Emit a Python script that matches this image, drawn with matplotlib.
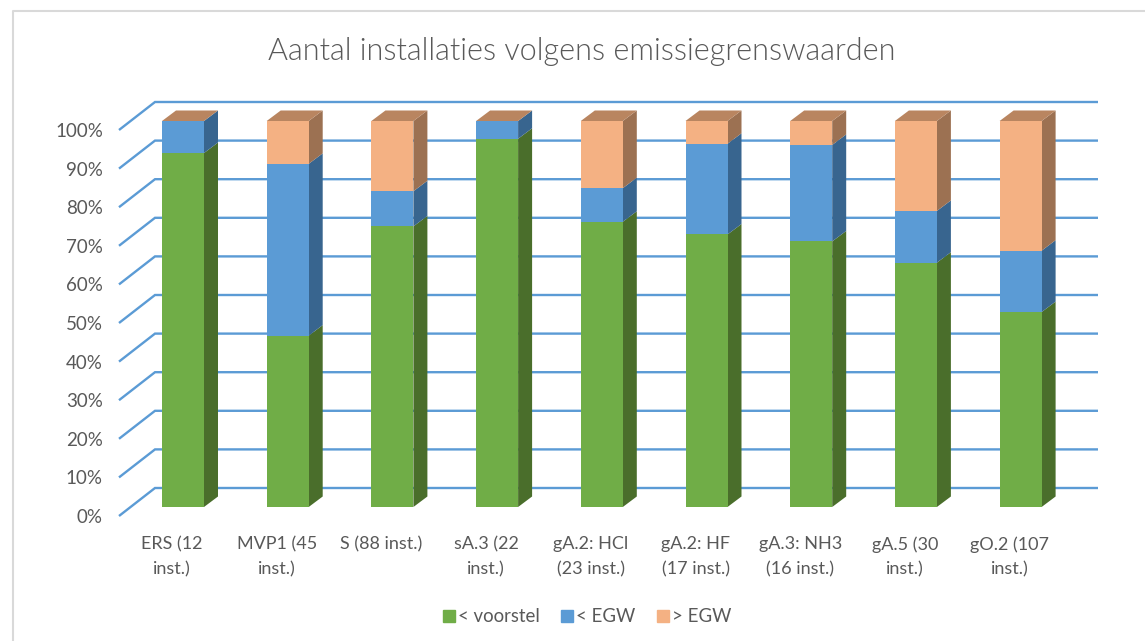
import matplotlib
matplotlib.use("Agg")
import matplotlib.pyplot as plt
from matplotlib.lines import Line2D
from matplotlib.patches import Patch
from matplotlib.transforms import ScaledTranslation

categories = [
    "ERS (12\ninst.)", "MVP1 (45\ninst.)", "S (88 inst.)",
    "sA.3 (22\ninst.)", "gA.2: HCl\n(23 inst.)", "gA.2: HF\n(17 inst.)",
    "gA.3: NH3\n(16 inst.)", "gA.5 (30\ninst.)", "gO.2 (107\ninst.)",
]
voorstel = [91.7, 44.4, 72.7, 95.4, 73.9, 70.6, 68.8, 63.3, 50.5]
egw_under = [8.3, 44.5, 9.1, 4.6, 8.7, 23.5, 25.0, 13.4, 15.9]
egw_over = [0.0, 11.1, 18.2, 0.0, 17.4, 5.9, 6.2, 23.3, 33.6]
series_names = ["< voorstel", "< EGW", "> EGW"]
y_ticks = [0, 10, 20, 30, 40, 50, 60, 70, 80, 90, 100]

W, H = 1145, 641
PX_X = 104.7
PX_Y = 3.86
GREY = "#595959"
GRID = "#5b9bd5"

front = ["#70ad47", "#5b9bd5", "#f4b183"]
side = ["#4a6e2b", "#38658f", "#9c7152"]
top_face = "#b98560"

plt.rcParams["font.family"] = ["Lato", "DejaVu Sans"]
fig = plt.figure(figsize=(W / 100, H / 100), dpi=100)

# axes box = front plane of the bars
left = 183 - 0.5 * PX_X
ax = fig.add_axes([left / W, (H - 507) / H, 9 * PX_X / W, 386 / H])
ax.set_xlim(-0.5, 8.5)
ax.set_ylim(0, 100)
for s in ax.spines.values():
    s.set_visible(False)

bar_w = 42 / PX_X
depth_x = 14 / PX_X
depth_y = 10.5 / PX_Y

# back wall gridlines and the diagonal floor lines
wall_x0 = (155 - 183) / PX_X
wall_x1 = (1098 - 183) / PX_X
wall_y = 19 / PX_Y
diag_x = (119 - 183) / PX_X
diag_y = -9 / PX_Y
for t in y_ticks:
    ax.plot([diag_x, wall_x0, wall_x1], [t + diag_y, t + wall_y, t + wall_y],
            color=GRID, lw=1.7, clip_on=False, zorder=1,
            solid_joinstyle="miter", solid_capstyle="butt")

bottom = [0.0] * len(categories)
for k, values in enumerate([voorstel, egw_under, egw_over]):
    ax.bar(range(len(categories)), values, bar_w, bottom=bottom,
           color=front[k], zorder=3, clip_on=False)
    for i, v in enumerate(values):
        if v == 0:
            continue
        x1 = i + bar_w / 2
        y0 = bottom[i]
        y1 = y0 + v
        ax.fill([x1, x1 + depth_x, x1 + depth_x, x1],
                [y0, y0 + depth_y, y1 + depth_y, y1],
                color=side[k], lw=0, zorder=2, clip_on=False)
    bottom = [b + v for b, v in zip(bottom, values)]

# top faces
for i, b in enumerate(bottom):
    x0 = i - bar_w / 2
    x1 = i + bar_w / 2
    ax.fill([x0, x1, x1 + depth_x, x0 + depth_x],
            [b, b, b + depth_y, b + depth_y],
            color=top_face, lw=0, zorder=2, clip_on=False)

ax.set_xticks(range(len(categories)))
ax.set_xticklabels(categories, fontsize=13, color=GREY, linespacing=1.68)
ax.tick_params(axis="x", length=0, pad=21)
shift_x = ScaledTranslation(-11 / 100, 0, fig.dpi_scale_trans)
for label in ax.get_xticklabels():
    label.set_transform(label.get_transform() + shift_x)
ax.set_yticks(y_ticks)
ax.set_yticklabels([f"{t}%" for t in y_ticks], fontsize=13.5, color=GREY)
ax.tick_params(axis="y", length=0, pad=20)
shift = ScaledTranslation(0, -9 / 100, fig.dpi_scale_trans)
for label in ax.get_yticklabels():
    label.set_transform(label.get_transform() + shift)

fig.text(582 / W, 1 - 51 / H, "Aantal installaties volgens emissiegrenswaarden",
         ha="center", va="center", fontsize=22, color=GREY, fontweight=300)

handles = [Patch(color=c) for c in front]
fig.legend(handles, series_names, loc="center", ncol=3,
           bbox_to_anchor=(587 / W, 1 - 617 / H), frameon=False,
           fontsize=13.4, labelcolor=GREY, handlelength=0.65, handleheight=0.65,
           handletextpad=0.15, columnspacing=1.15)

# outer chart frame
frame = "#d9d9d9"
fig.add_artist(Line2D([13 / W, 13 / W, 1], [0, 1 - 11 / H, 1 - 11 / H],
                      color=frame, lw=1.5))

fig.savefig("out.png", dpi=100)
